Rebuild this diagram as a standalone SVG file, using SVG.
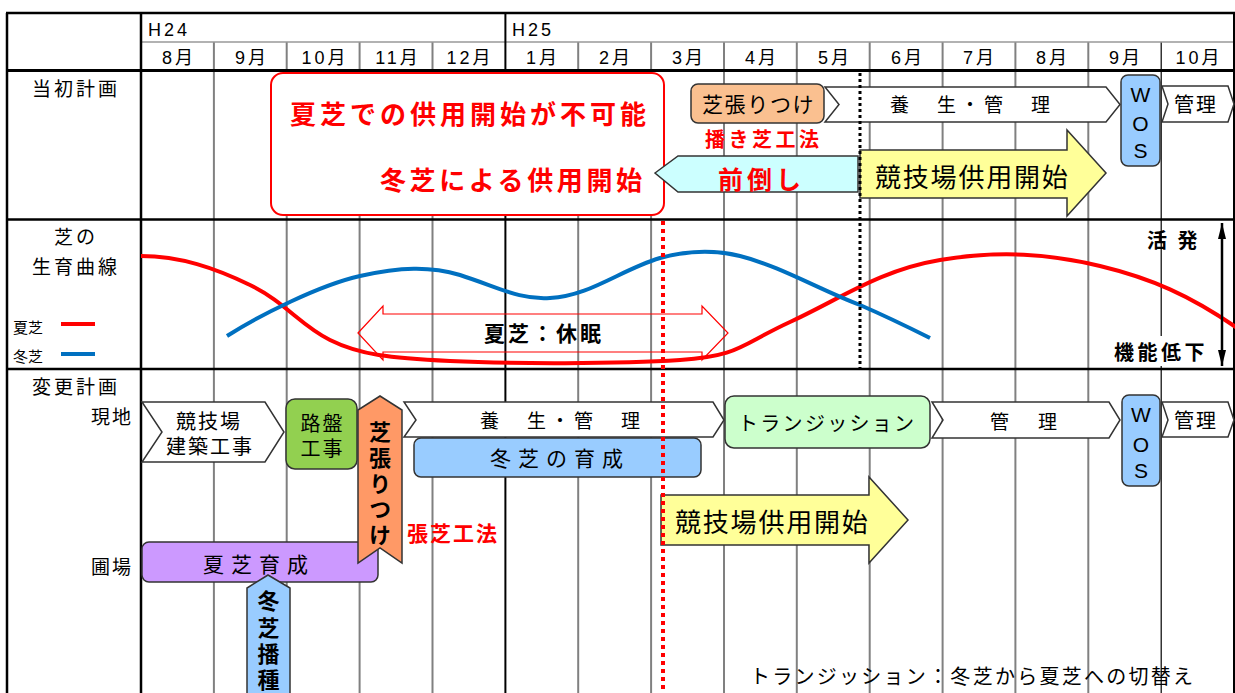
<svg xmlns="http://www.w3.org/2000/svg" width="1235" height="693" viewBox="0 0 1235 693">
<defs>
<style>
text{font-family:"Noto Sans CJK JP","Liberation Sans",sans-serif;fill:#000}
.lat{font-family:"Liberation Sans","Noto Sans CJK JP",sans-serif}
.hd{font-size:18px;letter-spacing:3px}
.mo{font-size:18px;letter-spacing:3px;text-anchor:middle}
.lbl{font-size:19px;letter-spacing:3px}
.b{font-weight:bold}
.red{fill:#f00}
.mid{text-anchor:middle}
.vt{writing-mode:vertical-rl;font-weight:bold;font-size:22px}
.two{writing-mode:vertical-rl;font-size:20px;letter-spacing:2px}
.grid{stroke:#808080;stroke-width:2}
.box{stroke:#333;stroke-width:1.5}
.chev{fill:#fff;stroke:#333;stroke-width:1.5}
.wos{fill:#99CCFF;stroke:#333;stroke-width:1.5}
.wt{font-size:21px;text-anchor:middle}
</style>
<marker id="ah" viewBox="0 0 16 8" refX="16" refY="4" markerWidth="6.4" markerHeight="3.2" orient="auto-start-reverse"><path d="M0,0 L16,4 L0,8 z" fill="#000"/></marker>
</defs>
<rect x="0" y="0" width="1235" height="693" fill="#fff"/>

<g id="grid">
<g class="grid">
<line x1="213.9" y1="42" x2="213.9" y2="693"/>
<line x1="286.7" y1="42" x2="286.7" y2="693"/>
<line x1="359.6" y1="42" x2="359.6" y2="693"/>
<line x1="432.5" y1="42" x2="432.5" y2="693"/>
<line x1="578.2" y1="42" x2="578.2" y2="693"/>
<line x1="651.1" y1="42" x2="651.1" y2="693"/>
<line x1="724" y1="42" x2="724" y2="693"/>
<line x1="796.8" y1="42" x2="796.8" y2="693"/>
<line x1="869.7" y1="42" x2="869.7" y2="693"/>
<line x1="942.6" y1="42" x2="942.6" y2="693"/>
<line x1="1015.4" y1="42" x2="1015.4" y2="693"/>
<line x1="1088.3" y1="42" x2="1088.3" y2="693"/>
</g>
<line x1="1161.2" y1="42" x2="1161.2" y2="693" stroke="#000" stroke-width="1.2"/>
<line x1="141" y1="42" x2="1234" y2="42" stroke="#999" stroke-width="1.5"/>
<line x1="505.4" y1="13" x2="505.4" y2="693" stroke="#000" stroke-width="2"/>
<line x1="141" y1="13" x2="141" y2="693" stroke="#000" stroke-width="2.5"/>
<line x1="7" y1="13" x2="7" y2="693" stroke="#000" stroke-width="2.5"/>
<line x1="1234" y1="13" x2="1234" y2="693" stroke="#000" stroke-width="2"/>
<line x1="6" y1="13" x2="1235" y2="13" stroke="#000" stroke-width="2.5"/>
<line x1="6" y1="70.5" x2="1235" y2="70.5" stroke="#000" stroke-width="3"/>
<line x1="6" y1="219.5" x2="1235" y2="219.5" stroke="#000" stroke-width="2.5"/>
<line x1="6" y1="369" x2="1235" y2="369" stroke="#000" stroke-width="2.5"/>
</g>

<g id="header">
<text class="lat hd" x="148" y="36">H24</text>
<text class="lat hd" x="512" y="36">H25</text>
<text class="lat mo" x="179" y="64">8月</text>
<text class="lat mo" x="252" y="64">9月</text>
<text class="lat mo" x="325" y="64">10月</text>
<text class="lat mo" x="398" y="64">11月</text>
<text class="lat mo" x="470" y="64">12月</text>
<text class="lat mo" x="543" y="64">1月</text>
<text class="lat mo" x="616" y="64">2月</text>
<text class="lat mo" x="689" y="64">3月</text>
<text class="lat mo" x="762" y="64">4月</text>
<text class="lat mo" x="835" y="64">5月</text>
<text class="lat mo" x="908" y="64">6月</text>
<text class="lat mo" x="980" y="64">7月</text>
<text class="lat mo" x="1053" y="64">8月</text>
<text class="lat mo" x="1126" y="64">9月</text>
<text class="lat mo" x="1199" y="64">10月</text>
</g>

<g id="row-labels">
<text class="lbl mid" x="76" y="95.5">当初計画</text>
<text class="lbl mid" x="76" y="244">芝の</text>
<text class="lbl mid" x="76" y="273.5">生育曲線</text>
<text x="13" y="333" style="font-size:15px">夏芝</text>
<text x="13" y="362" style="font-size:15px">冬芝</text>
<line x1="61" y1="324" x2="95" y2="324" stroke="#f00" stroke-width="4"/>
<line x1="61" y1="354" x2="95" y2="354" stroke="#0070C0" stroke-width="4"/>
<text class="lbl mid" x="76" y="393.5">変更計画</text>
<text class="lbl" x="91" y="424" style="letter-spacing:2px">現地</text>
<text class="lbl" x="91" y="574" style="letter-spacing:2px">圃場</text>
</g>

<g id="node-impossible">
<rect x="271" y="73" width="393" height="142" rx="12" fill="#fff" stroke="#f00" stroke-width="2"/>
<text class="b red" x="290" y="124" style="font-size:26px;letter-spacing:4px">夏芝での供用開始が不可能</text>
<text class="b red" x="380" y="190" style="font-size:26px;letter-spacing:3.6px">冬芝による供用開始</text>
</g>

<g id="node-top-shibahari">
<rect x="691" y="84" width="133" height="39" rx="7" fill="#FAC090" class="box"/>
<text x="702" y="112" style="font-size:21px;letter-spacing:1.6px">芝張りつけ</text>
<text class="b red" x="705" y="147" style="font-size:20px;letter-spacing:3.5px">播き芝工法</text>
</g>

<g id="node-top-yojo">
<polygon class="chev" points="825,87 1106,87 1120,104.5 1106,122 825,122 839,104.5"/>
<text x="890" y="112" style="font-size:19px;letter-spacing:4.5px">養　生・管　理</text>
</g>

<g id="node-maedaoshi">
<polygon points="655,173 678,156 858,156 858,192 678,192" fill="#CCFFFF" class="box"/>
<text class="b red" x="718" y="189" style="font-size:25px;letter-spacing:4px">前倒し</text>
</g>

<g id="node-top-open">
<polygon points="860,150 1067,150 1067,130 1106,173 1067,216 1067,198 860,198" fill="#FFFF99" class="box"/>
<text x="875" y="187" style="font-size:26px;letter-spacing:1.8px">競技場供用開始</text>
</g>

<g id="node-top-wos">
<rect class="wos" x="1121" y="75" width="39" height="91" rx="7"/>
<text class="lat wt" x="1140.5" y="102">W</text>
<text class="lat wt" x="1140.5" y="131">O</text>
<text class="lat wt" x="1140.5" y="158">S</text>
</g>

<g id="node-top-kanri">
<polygon class="chev" points="1162,86 1228,86 1234,104 1228,122 1162,122 1168,104"/>
<text x="1174" y="112" style="font-size:20px;letter-spacing:2px">管理</text>
</g>

<g id="node-dormant">
<polygon points="358,333 383,306 383,314 702,314 702,306 728,333 702,360 702,352 383,352 383,360" fill="none" stroke="#f00" stroke-width="1.2"/>
<text class="b" x="484" y="341" style="font-size:21px;letter-spacing:3px">夏芝：休眠</text>
</g>

<g id="curves">
<path d="M141,256 C180,256 215,268 250,285 S300,325 330,340 S390,358 450,361 S620,364 680,360 S740,345 790,322 S880,270 940,260 S1050,254 1100,266 S1190,295 1240,330" fill="none" stroke="#f00" stroke-width="4"/>
<path d="M227,336 C260,315 320,285 360,276 C400,267 430,266 460,275 C500,288 520,300 550,298 C590,296 620,270 660,258 C690,250 715,250 740,256 C780,266 820,290 860,305 C890,318 910,328 930,338" fill="none" stroke="#0070C0" stroke-width="4"/>
</g>

<g id="node-scale">
<text class="b" x="1147" y="248" style="font-size:20px;letter-spacing:3px">活 発</text>
<rect x="1110" y="336" width="104" height="30" fill="#fff"/>
<text class="b" x="1114" y="360" style="font-size:20px;letter-spacing:3.5px">機能低下</text>
</g>

<g id="node-construction">
<polygon class="chev" points="142,402 265,402 284,432 265,462 142,462 162,432"/>
<text class="lat mid" x="209" y="429" style="font-size:20px;letter-spacing:2px">競技場</text>
<text class="lat mid" x="210" y="454" style="font-size:20px;letter-spacing:2px">建築工事</text>
</g>

<g id="node-roban">
<rect x="286" y="399" width="71" height="70" rx="9" fill="#92D050" class="box"/>
<text class="lat mid" x="322.5" y="431" style="font-size:20px;letter-spacing:2px">路盤</text>
<text class="lat mid" x="322.5" y="456" style="font-size:20px;letter-spacing:2px">工事</text>
</g>

<g id="node-natsu-ikusei">
<rect x="142" y="542" width="236" height="40" rx="7" fill="#CC99FF" class="box"/>
<text x="203" y="572" style="font-size:21px;letter-spacing:7px">夏芝育成</text>
</g>

<g id="node-shibahari-v">
<polygon points="380,396 402,410 402,563 380,548 358,563 358,410" fill="#FF9966" class="box"/>
<text class="vt" x="380" y="421" style="letter-spacing:3.7px">芝張りつけ</text>
<text class="b red" x="407" y="541" style="font-size:21px;letter-spacing:2px">張芝工法</text>
</g>

<g id="node-fuyu-hashu">
<polygon points="268,575 290,588 290,700 247,700 247,588" fill="#99CCFF" class="box"/>
<text class="vt" x="268.5" y="590" style="letter-spacing:4.3px">冬芝播種</text>
</g>

<g id="node-yojo">
<polygon class="chev" points="404,402 713,402 724,420 713,437 404,437 416,420"/>
<text x="480" y="428" style="font-size:19px;letter-spacing:4.5px">養　生・管　理</text>
</g>

<g id="node-fuyu-ikusei">
<rect x="414" y="438" width="287" height="39" rx="7" fill="#99CCFF" class="box"/>
<text x="490" y="466" style="font-size:21px;letter-spacing:7px">冬芝の育成</text>
</g>

<g id="node-transition">
<rect x="725" y="396" width="205" height="52" rx="9" fill="#CCFFCC" class="box"/>
<text x="738" y="431" style="font-size:20px;letter-spacing:2.3px">トランジッション</text>
</g>

<g id="node-kanri">
<polygon class="chev" points="932,402 1109,402 1120,420 1109,438 932,438 943,420"/>
<text x="990" y="429" style="font-size:19px;letter-spacing:5px">管　理</text>
</g>

<g id="node-wos">
<rect class="wos" x="1122" y="395" width="38" height="91" rx="7"/>
<text class="lat wt" x="1141" y="422">W</text>
<text class="lat wt" x="1141" y="452">O</text>
<text class="lat wt" x="1141" y="478">S</text>
</g>

<g id="node-kanri2">
<polygon class="chev" points="1162,402 1228,402 1234,420 1228,437 1162,437 1168,420"/>
<text x="1174" y="428" style="font-size:20px;letter-spacing:2px">管理</text>
</g>

<g id="node-open">
<polygon points="661,495 869,495 869,477 908,520 869,563 869,545 661,545" fill="#FFFF99" class="box"/>
<text x="675" y="532" style="font-size:26px;letter-spacing:1.8px">競技場供用開始</text>
</g>

<g id="note">
<text x="750" y="684" textLength="443" lengthAdjust="spacing" style="font-size:20px">トランジッション：冬芝から夏芝への切替え</text>
</g>

<g id="connectors">
<line x1="860" y1="73" x2="860" y2="368" stroke="#000" stroke-width="3" stroke-dasharray="3 3"/>
<line x1="663" y1="221" x2="663" y2="693" stroke="#f00" stroke-width="4" stroke-dasharray="4 4"/>
<line x1="1222" y1="223" x2="1222" y2="366" stroke="#000" stroke-width="2.5" marker-start="url(#ah)" marker-end="url(#ah)"/>
</g>
</svg>
